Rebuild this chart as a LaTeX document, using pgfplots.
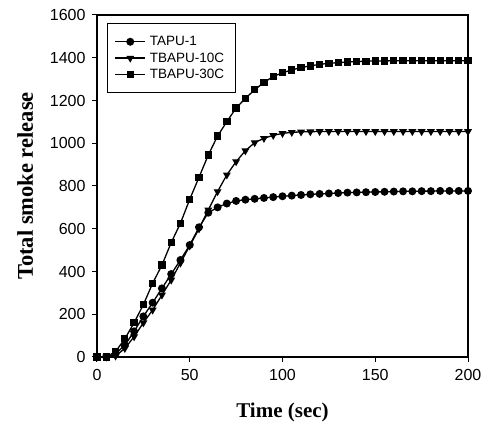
\documentclass[border=0pt]{standalone}
\usepackage{fontspec}
\setmainfont{Liberation Serif}
\setsansfont{Liberation Sans}
\usepackage{pgfplots}
\pgfplotsset{compat=1.18}

\begin{document}
\begin{tikzpicture}
\begin{axis}[
  scale only axis, width=371pt, height=342pt,
  xmin=0, xmax=200, ymin=0, ymax=1600,
  xtick={0,50,...,200}, ytick={0,200,...,1600},
  tick pos=left, tick align=outside, major tick length=5pt,
  tick style={line width=1pt, black},
  axis line style={line width=1.4pt},
  tick label style={font=\fontsize{16}{16}\selectfont\sffamily},
  /pgf/number format/assume math mode=true,
  /pgf/number format/1000 sep={},
  xticklabel style={yshift=-4pt},
  yticklabel style={xshift=-3pt},
  xlabel={Time (sec)}, ylabel={Total smoke release},
  xlabel style={font=\fontsize{21}{21}\selectfont\bfseries, yshift=-15pt},
  ylabel style={font=\fontsize{22.5}{22.5}\selectfont\bfseries, yshift=10pt},
  legend cell align=left,
  legend style={at={(0.027,0.977)}, anchor=north west, draw=black, line width=1pt,
    font=\fontsize{13.5}{13.5}\selectfont\sffamily, row sep=1.5pt,
    inner xsep=7pt, inner ysep=11pt,
    nodes={inner xsep=4pt}},
  legend image code/.code={
    \draw[mark repeat=2,mark phase=2,#1] plot coordinates {(0cm,0cm) (0.53cm,0cm) (1.06cm,0cm)};},
  every axis plot/.append style={black, line width=1.3pt},
]
\addplot[mark=*, mark size=3.3pt] coordinates {
(0,0) (5,0) (10,15) (15,55) (20,120) (25,190) (30,254) (35,321) (40,388) (45,454)
(50,524) (55,607) (60,675) (65,700) (70,718) (75,730) (80,736) (85,740) (90,744) (95,748)
(100,752) (105,755) (110,758) (115,761) (120,763) (125,765) (130,767) (135,769) (140,770) (145,771)
(150,772) (155,773) (160,774) (165,775) (170,775) (175,776) (180,776) (185,777) (190,777) (195,777) (200,777)};
\addplot[mark=triangle*, mark size=3.3pt, mark options={rotate=180}] coordinates {
(0,0) (5,0) (10,5) (15,40) (20,95) (25,160) (30,220) (35,290) (40,360) (45,440)
(50,520) (55,600) (60,688) (65,774) (70,852) (75,914) (80,965) (85,1003) (90,1023) (95,1037)
(100,1046) (105,1051) (110,1053) (115,1054) (120,1055) (125,1055) (130,1055) (135,1055) (140,1055) (145,1055)
(150,1055) (155,1055) (160,1055) (165,1055) (170,1055) (175,1055) (180,1055) (185,1055) (190,1055) (195,1055) (200,1055)};
\addplot[mark=square*, mark size=3pt] coordinates {
(0,0) (5,0) (10,25) (15,85) (20,160) (25,245) (30,345) (35,430) (40,535) (45,626)
(50,738) (55,841) (60,945) (65,1034) (70,1101) (75,1165) (80,1210) (85,1250) (90,1285) (95,1312)
(100,1330) (105,1343) (110,1354) (115,1362) (120,1369) (125,1374) (130,1377) (135,1380) (140,1382) (145,1384)
(150,1385) (155,1385) (160,1386) (165,1386) (170,1386) (175,1386) (180,1386) (185,1386) (190,1386) (195,1386) (200,1386)};
\legend{TAPU-1,TBAPU-10C,TBAPU-30C}
\end{axis}
\path (current axis.south west) ++(-97pt,-73pt) rectangle ++(492pt,430pt);
\end{tikzpicture}
\end{document}
